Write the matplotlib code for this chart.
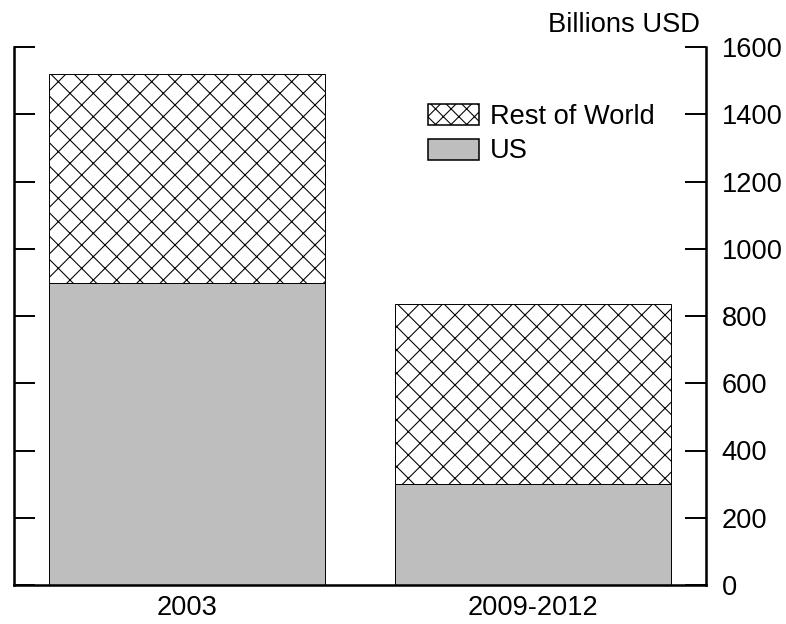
import matplotlib
matplotlib.use("Agg")
import matplotlib.pyplot as plt
from matplotlib.patches import Patch

# values (billions USD)
periods = ["2003", "2009-2012"]
us_vals = [897, 300]
rest_vals = [624, 535]
yticks = [0, 200, 400, 600, 800, 1000, 1200, 1400, 1600]

DPI = 140  # hatch spacing scales with dpi, this matches the crosshatch
plt.rcParams['font.family'] = ['Liberation Sans', 'DejaVu Sans']
plt.rcParams['hatch.linewidth'] = 0.55
fs = 14

fig = plt.figure(figsize=(787 / DPI, 624 / DPI), dpi=DPI)
ax = fig.add_axes([14 / 787, 39 / 624, 692 / 787, 538 / 624])

x = list(range(len(periods)))
ax.bar(x, us_vals, width=0.8, color='#bebebe', edgecolor='black', linewidth=0.5)
ax.bar(x, rest_vals, width=0.8, bottom=us_vals, color='white', edgecolor='black',
       linewidth=0.5, hatch='xx')

ax.set_xlim(-0.5, 1.5)
ax.set_ylim(0, 1600)

ax.spines['top'].set_visible(False)
for s in ['left', 'right', 'bottom']:
    ax.spines[s].set_linewidth(1.3)

ax.set_xticks(x)
ax.set_xticklabels(periods, fontsize=fs)
ax.tick_params(axis='x', length=0, pad=5)

ax.set_yticks(yticks)
ax.set_yticklabels([str(v) for v in yticks], fontsize=fs)
ax.tick_params(axis='y', which='major', direction='in', length=11, width=1.0,
               left=True, right=True, labelleft=False, labelright=True, pad=8)
ax.set_yticks([1600], minor=True)
ax.tick_params(axis='y', which='minor', direction='in', length=23, width=1.0,
               left=True, right=True, labelleft=False, labelright=False)

ax.text(0.991, 1.028, "Billions USD", transform=ax.transAxes, ha='right',
        va='baseline', fontsize=fs)

handles = [Patch(facecolor='white', edgecolor='black', hatch='xxx', linewidth=0.8),
           Patch(facecolor='#bebebe', edgecolor='black', linewidth=0.8)]
ax.legend(handles, ["Rest of World", "US"], loc='upper left',
          bbox_to_anchor=(0.598, 0.894), frameon=False, fontsize=fs,
          handlelength=1.875, handleheight=0.81, handletextpad=0.4,
          labelspacing=0.31, borderpad=0, borderaxespad=0)

fig.savefig("out.png", dpi=DPI)
